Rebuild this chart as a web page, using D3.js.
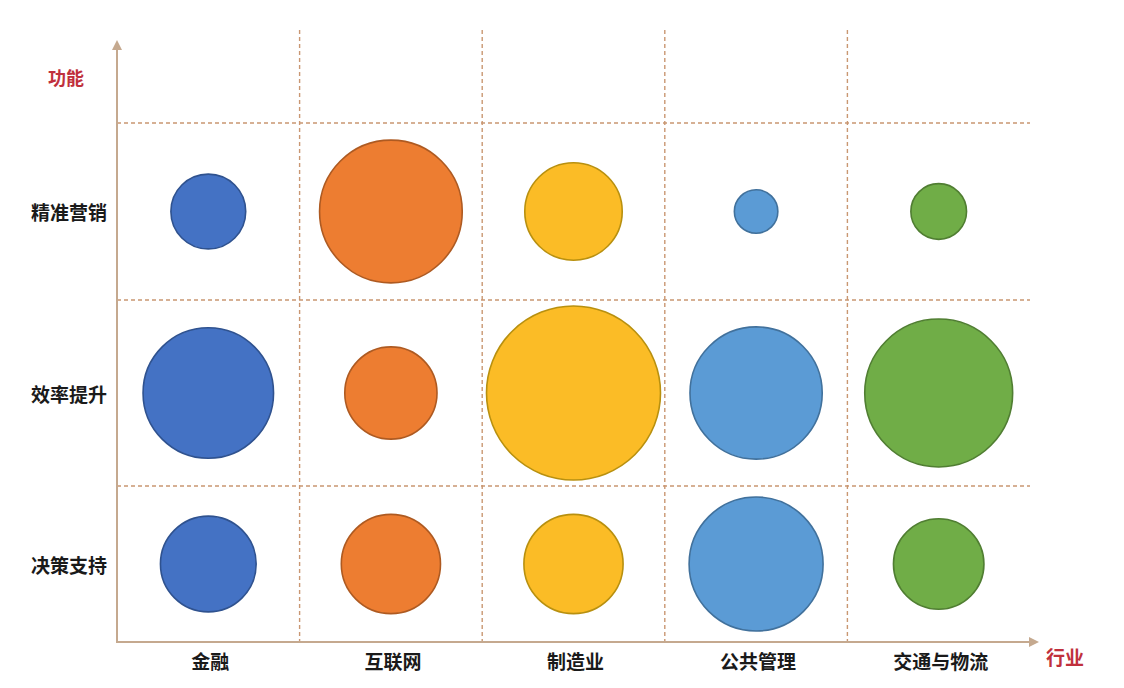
<!DOCTYPE html>
<html>
<head>
<meta charset="utf-8">
<script src="https://cdn.jsdelivr.net/npm/d3@7"></script>
<style>
  html, body { margin: 0; padding: 0; background: #fff; }
  svg { display: block; }
  text { font-family: "Noto Sans CJK SC", "Noto Sans", sans-serif; font-weight: 700; }
</style>
</head>
<body>
<svg id="chart" width="1124" height="688"></svg>
<script>
// ---- data ----
const industries = ["金融", "互联网", "制造业", "公共管理", "交通与物流"];
const functions = ["决策支持", "效率提升", "精准营销"]; // bottom to top
const industryColors = ["#4472C4", "#ED7D31", "#FBBC26", "#5B9BD5", "#70AD47"];
const industryStrokes = ["#2F528F", "#AE5A21", "#B8900F", "#41719C", "#507E32"];
// bubble size (relative intensity, 0-100) per function row, per industry
const valuesMarketing  = [43, 82, 56, 25, 32];
const valuesEfficiency = [75, 53, 100, 76, 85];
const valuesDecision   = [55, 57, 57, 77, 52];
const xAxisTitle = "行业";
const yAxisTitle = "功能";

const rowsValues = [valuesDecision, valuesEfficiency, valuesMarketing];

// ---- layout ----
const svg = d3.select("#chart");
const mLeft = 117, mRight = 1030, mBottom = 642, mTop = 123;
const x = d3.scaleBand().domain(industries).range([mLeft, mRight]);
// grid rows drawn by hand in the original are uneven: piecewise scale over row index
const y = d3.scaleLinear().domain([0, 1, 2, 3]).range([mBottom, 486, 300, mTop]);
const r = d3.scaleLinear().domain([0, 100]).range([0, 87]);

const gridColor = "#c99772";
const axisColor = "#c5a98f";

// vertical dashed lines (column boundaries)
const colEdges = industries.slice(1).map(d => x(d));
svg.append("g").selectAll("line").data(colEdges).join("line")
  .attr("x1", d => d).attr("x2", d => d)
  .attr("y1", 30).attr("y2", mBottom)
  .attr("stroke", gridColor).attr("stroke-width", 1.4)
  .attr("stroke-dasharray", "4,3");

// horizontal dashed lines (row boundaries)
svg.append("g").selectAll("line").data([1, 2, 3]).join("line")
  .attr("x1", mLeft).attr("x2", mRight)
  .attr("y1", d => y(d)).attr("y2", d => y(d))
  .attr("stroke", gridColor).attr("stroke-width", 1.4)
  .attr("stroke-dasharray", "4,3");

// axes with arrows
const defs = svg.append("defs");
defs.append("marker").attr("id", "arrow")
  .attr("viewBox", "0 0 10 10").attr("refX", 8).attr("refY", 5)
  .attr("markerWidth", 5).attr("markerHeight", 5).attr("orient", "auto")
  .append("path").attr("d", "M0,0 L10,5 L0,10 Z").attr("fill", axisColor);

svg.append("line").attr("x1", mLeft).attr("y1", mBottom).attr("x2", mLeft).attr("y2", 42)
  .attr("stroke", axisColor).attr("stroke-width", 2).attr("marker-end", "url(#arrow)");
svg.append("line").attr("x1", mLeft - 1).attr("y1", mBottom).attr("x2", 1037).attr("y2", mBottom)
  .attr("stroke", axisColor).attr("stroke-width", 2).attr("marker-end", "url(#arrow)");

// bubbles
const cells = [];
rowsValues.forEach((vals, ri) => {
  vals.forEach((v, ci) => cells.push({ row: ri, ind: industries[ci], ci, v }));
});
svg.append("g").selectAll("circle").data(cells).join("circle")
  .attr("cx", d => x(d.ind) + x.bandwidth() / 2)
  .attr("cy", d => y(d.row + 0.5))
  .attr("r", d => r(d.v))
  .attr("fill", d => industryColors[d.ci])
  .attr("stroke", d => industryStrokes[d.ci])
  .attr("stroke-width", 1.6);

// row labels
svg.append("g").selectAll("text").data(functions).join("text")
  .attr("x", 107).attr("y", (d, i) => y(i + 0.5))
  .attr("text-anchor", "end").attr("dominant-baseline", "central")
  .attr("font-size", 19).attr("fill", "#1a1a1a")
  .text(d => d);

// column labels
svg.append("g").selectAll("text").data(industries).join("text")
  .attr("x", d => x(d) + x.bandwidth() / 2 + 2).attr("y", 660)
  .attr("text-anchor", "middle").attr("dominant-baseline", "central")
  .attr("font-size", 19).attr("fill", "#1a1a1a")
  .text(d => d);

// axis titles
svg.append("text").attr("x", 66).attr("y", 77)
  .attr("text-anchor", "middle").attr("dominant-baseline", "central")
  .attr("font-size", 18).attr("fill", "#c0303c").text(yAxisTitle);
svg.append("text").attr("x", 1065).attr("y", 656)
  .attr("text-anchor", "middle").attr("dominant-baseline", "central")
  .attr("font-size", 19).attr("fill", "#c0303c").text(xAxisTitle);
</script>
</body>
</html>
